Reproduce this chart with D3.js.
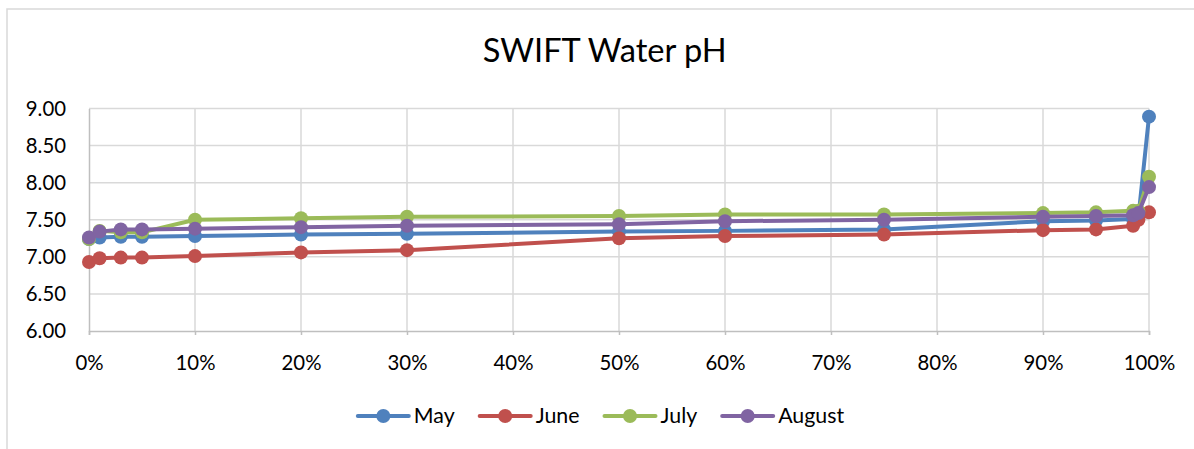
<!DOCTYPE html>
<html>
<head>
<meta charset="utf-8">
<script src="https://cdn.jsdelivr.net/npm/d3@7"></script>
<style>
html,body{margin:0;padding:0;background:#fff;}
svg{display:block;}
</style>
</head>
<body>
<svg id="chart" width="1194" height="449"></svg>
<script>
// ---- data ----
const percentiles = [0, 1, 3, 5, 10, 20, 30, 50, 60, 75, 90, 95, 98.5, 99, 100];
const may    = [7.24, 7.26, 7.27, 7.27, 7.28, 7.30, 7.31, 7.34, 7.35, 7.37, 7.48, 7.49, 7.51, 7.53, 8.89];
const june   = [6.93, 6.98, 6.99, 6.99, 7.01, 7.06, 7.09, 7.25, 7.28, 7.30, 7.36, 7.37, 7.42, 7.50, 7.60];
const july   = [7.24, 7.35, 7.33, 7.33, 7.50, 7.52, 7.54, 7.55, 7.57, 7.57, 7.59, 7.60, 7.62, 7.62, 8.08];
const august = [7.26, 7.34, 7.37, 7.37, 7.38, 7.40, 7.42, 7.44, 7.48, 7.50, 7.54, 7.55, 7.56, 7.59, 7.94];
const seriesNames = ["May", "June", "July", "August"];
const seriesColors = ["#4f81bd", "#c0504d", "#9bbb59", "#8064a2"];
const xTickValues = [0, 10, 20, 30, 40, 50, 60, 70, 80, 90, 100];
const yTickValues = [6.0, 6.5, 7.0, 7.5, 8.0, 8.5, 9.0];
const title = "SWIFT Water pH";

const series = [may, june, july, august].map((vals, i) => ({
  name: seriesNames[i], color: seriesColors[i],
  points: vals.map((v, j) => ({x: percentiles[j], y: v}))
}));

const FONT = "Lato, 'Open Sans', sans-serif";
const svg = d3.select("#chart");

// fit a font size so that a string spans a target width
function fitSize(str, target) {
  const t = svg.append("text").attr("font-family", FONT).attr("font-size", 100).text(str);
  const w = t.node().getComputedTextLength();
  t.remove();
  return 100 * target / w;
}
const titleSize = fitSize(title, 244);
const tickSize = (fitSize("100%", 52) + fitSize("9.00", 40)) / 2;
const legendSize = fitSize("August", 66);

// chart area border
svg.append("rect").attr("x", 7).attr("y", 9).attr("width", 1194).attr("height", 460)
  .attr("fill", "#fff").attr("stroke", "#d9d9d9").attr("stroke-width", 1.5);

const x = d3.scaleLinear().domain([0, 100]).range([89, 1149]);
const y = d3.scaleLinear().domain([6, 9]).range([331, 108.5]);

// gridlines
const grid = svg.append("g");
grid.selectAll("line.h").data(yTickValues.slice(1)).join("line")
  .attr("x1", x(0)).attr("x2", x(100)).attr("y1", d => y(d)).attr("y2", d => y(d))
  .attr("stroke", "#d9d9d9").attr("stroke-width", 1.5);
grid.selectAll("line.v").data(xTickValues.slice(1)).join("line")
  .attr("x1", d => x(d)).attr("x2", d => x(d)).attr("y1", y(6)).attr("y2", y(9))
  .attr("stroke", "#d9d9d9").attr("stroke-width", 1.5);

// axes
const xAxis = svg.append("g").attr("transform", `translate(0,${y(6)})`)
  .call(d3.axisBottom(x).tickValues(xTickValues).tickFormat(d => d + "%").tickSize(4).tickPadding(21));
const yAxis = svg.append("g").attr("transform", `translate(${x(0)},0)`)
  .call(d3.axisLeft(y).tickValues(yTickValues).tickFormat(d3.format(".2f")).tickSize(0).tickPadding(23));
[xAxis, yAxis].forEach(g => {
  g.select(".domain").attr("stroke", "#bfbfbf").attr("stroke-width", 1.5);
  g.selectAll(".tick line").attr("stroke", "#bfbfbf").attr("stroke-width", 1.5);
  g.selectAll(".tick text").attr("font-family", FONT).attr("font-size", tickSize).attr("fill", "#000");
});

// series
const line = d3.line().x(d => x(d.x)).y(d => y(d.y));
series.forEach(s => {
  const g = svg.append("g");
  g.append("path").attr("d", line(s.points)).attr("fill", "none")
    .attr("stroke", s.color).attr("stroke-width", 4).attr("stroke-linejoin", "round").attr("stroke-linecap", "round");
  g.selectAll("circle").data(s.points).join("circle")
    .attr("cx", d => x(d.x)).attr("cy", d => y(d.y)).attr("r", 7).attr("fill", s.color);
});

// title
svg.append("text").attr("x", 604.7).attr("y", 62).attr("text-anchor", "middle")
  .attr("font-family", FONT).attr("font-size", titleSize).attr("fill", "#000").text(title);

// legend
const legend = svg.append("g");
let cx = 0;
const items = series.map(s => {
  const it = legend.append("g");
  it.append("line").attr("x1", 0).attr("x2", 51).attr("y1", 0).attr("y2", 0)
    .attr("stroke", s.color).attr("stroke-width", 4).attr("stroke-linecap", "round");
  it.append("circle").attr("cx", 25.5).attr("cy", 0).attr("r", 7).attr("fill", s.color);
  const t = it.append("text").attr("x", 56).attr("y", 0).attr("dy", "0.35em")
    .attr("font-family", FONT).attr("font-size", legendSize).attr("fill", "#000").text(s.name);
  const w = 56 + t.node().getComputedTextLength();
  it.attr("transform", `translate(${cx},0)`);
  cx += w + 25;
  return it;
});
const totalW = cx - 25;
legend.attr("transform", `translate(${601 - totalW / 2},416)`);
</script>
</body>
</html>
